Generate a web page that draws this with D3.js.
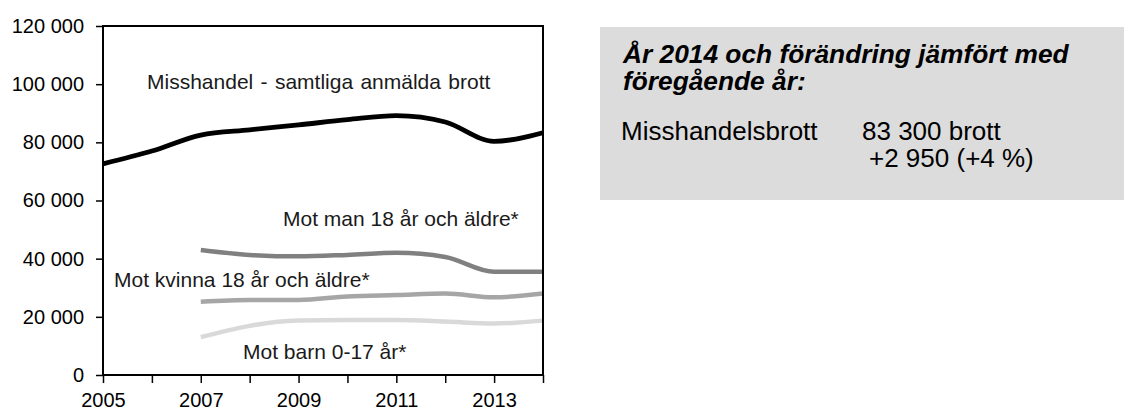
<!DOCTYPE html>
<html>
<head>
<meta charset="utf-8">
<script src="https://cdn.jsdelivr.net/npm/d3@7"></script>
<style>
  html, body { margin: 0; padding: 0; background: #ffffff; }
  svg { display: block; font-family: "Liberation Sans", Arial, sans-serif; }
</style>
</head>
<body>
<svg id="chart" width="1124" height="410"></svg>
<script>
// ---- data ----
const years = [2005, 2006, 2007, 2008, 2009, 2010, 2011, 2012, 2013, 2014];
const totalValues = [72600, 77000, 82500, 84300, 86000, 87800, 89200, 87000, 80350, 83300];
const subYears = [2007, 2008, 2009, 2010, 2011, 2012, 2013, 2014];
const manValues = [43000, 41300, 40800, 41300, 42000, 40600, 35500, 35500];
const womanValues = [25200, 25800, 25800, 27000, 27500, 28000, 26700, 28000];
const childValues = [13000, 16900, 18700, 18900, 18900, 18400, 17700, 18700];
const yTicks = [0, 20000, 40000, 60000, 80000, 100000, 120000];
const xTickLabels = ["2005", "2007", "2009", "2011", "2013"];
const seriesLabels = ["Misshandel - samtliga anmälda brott", "Mot man 18 år och äldre*", "Mot kvinna 18 år och äldre*", "Mot barn 0-17 år*"];
const boxTitle = ["År 2014 och förändring jämfört med", "föregående år:"];
const boxRows = [["Misshandelsbrott", "83 300 brott"], ["", "+2 950 (+4 %)"]];

(function () {
// ---- layout ----
const svg = d3.select("#chart");
const pL = 103, pR = 543, pT = 26, pB = 375;
const x = d3.scaleLinear().domain([2005, 2014]).range([pL, pR]);
const y = d3.scaleLinear().domain([0, 120000]).range([pB, pT]);
const sv = d3.formatLocale({decimal: ",", thousands: " ", grouping: [3], currency: ["", ""]});
const fmt = sv.format(",d");

// axes
const yAxis = d3.axisLeft(y).tickValues(yTicks).tickSize(7).tickPadding(12).tickFormat(d => fmt(d));
const gy = svg.append("g").attr("transform", `translate(${pL},0)`).call(yAxis);
gy.selectAll("text").attr("font-size", 20).attr("fill", "#000").attr("font-family", "Liberation Sans, Arial, sans-serif");
gy.selectAll("line").attr("stroke", "#000").attr("stroke-width", 1.5);
gy.select(".domain").remove();

const xAxis = d3.axisBottom(x).tickValues(years).tickSize(8).tickPadding(10)
  .tickFormat(d => xTickLabels.includes(String(d)) ? String(d) : "");
const gx = svg.append("g").attr("transform", `translate(0,${pB})`).call(xAxis);
gx.selectAll("text").attr("font-size", 20).attr("fill", "#000").attr("font-family", "Liberation Sans, Arial, sans-serif");
gx.selectAll("line").attr("stroke", "#000").attr("stroke-width", 1.5);
gx.select(".domain").remove();

// lines
const line = d3.line().x(d => x(d[0])).y(d => y(d[1])).curve(d3.curveMonotoneX);
const series = [
  {yrs: years, vals: totalValues, color: "#000000", w: 4.8},
  {yrs: subYears, vals: manValues, color: "#808080", w: 4.5},
  {yrs: subYears, vals: womanValues, color: "#a6a6a6", w: 4.5},
  {yrs: subYears, vals: childValues, color: "#d9d9d9", w: 4.5}
];
series.forEach(s => {
  svg.append("path")
    .datum(s.yrs.map((yr, i) => [yr, s.vals[i]]))
    .attr("d", line)
    .attr("fill", "none")
    .attr("stroke", s.color)
    .attr("stroke-width", s.w)
    .attr("stroke-linejoin", "round");
});

// frame
svg.append("rect").attr("x", pL).attr("y", pT).attr("width", pR - pL).attr("height", pB - pT)
  .attr("fill", "none").attr("stroke", "#000").attr("stroke-width", 2);

// series labels
const labelPos = [[147, 89], [283, 226], [114, 287], [243, 359]];
seriesLabels.forEach((t, i) => {
  svg.append("text").attr("x", labelPos[i][0]).attr("y", labelPos[i][1])
    .attr("font-size", 21).attr("word-spacing", i === 0 ? 1.5 : 0).attr("fill", "#1a1a1a").text(t);
});

// info box
svg.append("rect").attr("x", 600).attr("y", 27).attr("width", 524).attr("height", 173).attr("fill", "#dcdcdc");
boxTitle.forEach((t, i) => {
  svg.append("text").attr("x", 623).attr("y", 63 + i * 27)
    .attr("font-size", 26.3).attr("font-weight", "bold").attr("font-style", "italic")
    .attr("fill", "#000").text(t);
});
boxRows.forEach((r, i) => {
  if (r[0]) svg.append("text").attr("x", 621).attr("y", 140 + i * 27).attr("font-size", 26).attr("fill", "#000").text(r[0]);
  svg.append("text").attr("x", i === 0 ? 862 : 869).attr("y", 140 + i * 27).attr("font-size", 26).attr("fill", "#000").text(r[1]);
});
})();
</script>
</body>
</html>
